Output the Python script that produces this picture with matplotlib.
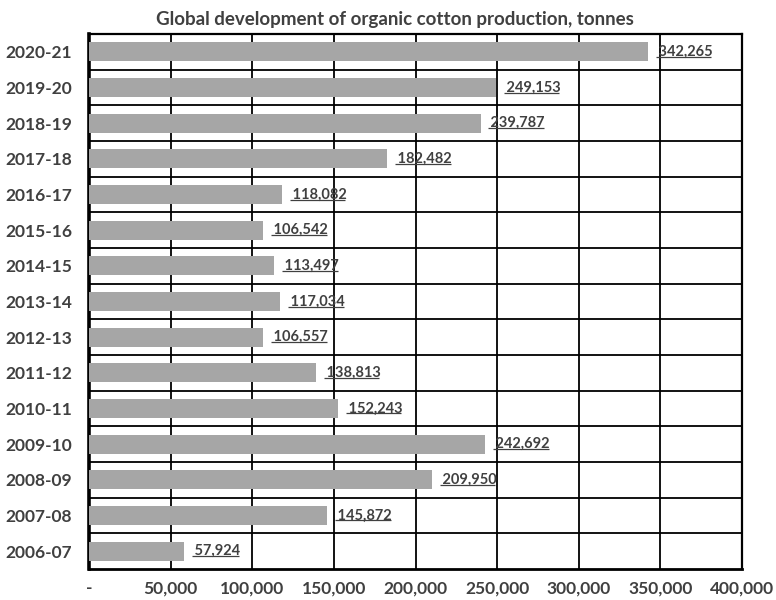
import matplotlib.pyplot as plt
from matplotlib.ticker import FuncFormatter

plt.rcParams['font.family'] = ['Lato', 'DejaVu Sans']

seasons = ["2006-07", "2007-08", "2008-09", "2009-10", "2010-11", "2011-12",
           "2012-13", "2013-14", "2014-15", "2015-16", "2016-17", "2017-18",
           "2018-19", "2019-20", "2020-21"]
tonnes = [57924, 145872, 209950, 242692, 152243, 138813,
          106557, 117034, 113497, 106542, 118082, 182482,
          239787, 249153, 342265]

TEXT = "#404040"

fig = plt.figure(figsize=(7.76, 6.0), dpi=100)
ax = fig.add_axes([0.1147, 0.0517, 0.8416, 0.8916])

y = list(range(len(seasons)))
ax.barh(y, tonnes, height=0.54, color="#a6a6a6", zorder=3)

ax.set_xlim(0, 400000)
ax.set_ylim(-0.5, len(seasons) - 0.5)
ax.set_xticks(range(0, 400001, 50000))
ax.xaxis.set_major_formatter(FuncFormatter(lambda v, p: "-" if v == 0 else f"{int(v):,}"))
ax.set_yticks(y)
ax.set_yticklabels(seasons)

# grid: vertical at ticks, horizontal between categories
for xv in range(50000, 400000, 50000):
    ax.axvline(xv, color="black", lw=1.3, zorder=1)
for i in range(len(seasons) - 1):
    ax.axhline(i + 0.5, color="black", lw=1.3, zorder=1)

for s in ax.spines.values():
    s.set_color("black")
    s.set_linewidth(1.6)
ax.spines["left"].set_linewidth(2.6)
ax.spines["bottom"].set_linewidth(2.0)

ax.tick_params(axis="both", length=0, colors=TEXT, labelsize=12.5)
ax.tick_params(axis="x", pad=8)
ax.tick_params(axis="y", pad=12)
for lbl in ax.get_xticklabels() + ax.get_yticklabels():
    lbl.set_fontweight("bold")
    lbl.set_color(TEXT)

fig.text(0.509, 0.968, "Global development of organic cotton production, tonnes",
         ha="center", va="center", fontsize=13.5, fontweight="bold", color=TEXT)

# underlined value labels
labels = []
for yi, v in zip(y, tonnes):
    t = ax.annotate(f" {v:,}", (v, yi), xytext=(5, 0), textcoords="offset points",
                    ha="left", va="center", fontsize=10.5, fontweight="bold",
                    color=TEXT, zorder=4)
    labels.append(t)

fig.canvas.draw()
renderer = fig.canvas.get_renderer()
inv = ax.transData.inverted()
for t in labels:
    bb = t.get_window_extent(renderer)
    (x0, y0) = inv.transform((bb.x0 + 1, bb.y0 + 2))
    (x1, _) = inv.transform((bb.x1 - 1, bb.y0 + 2))
    ax.plot([x0, x1], [y0, y0], color=TEXT, lw=0.9, zorder=4,
            solid_capstyle="butt")

fig.savefig("out.png", dpi=100)
